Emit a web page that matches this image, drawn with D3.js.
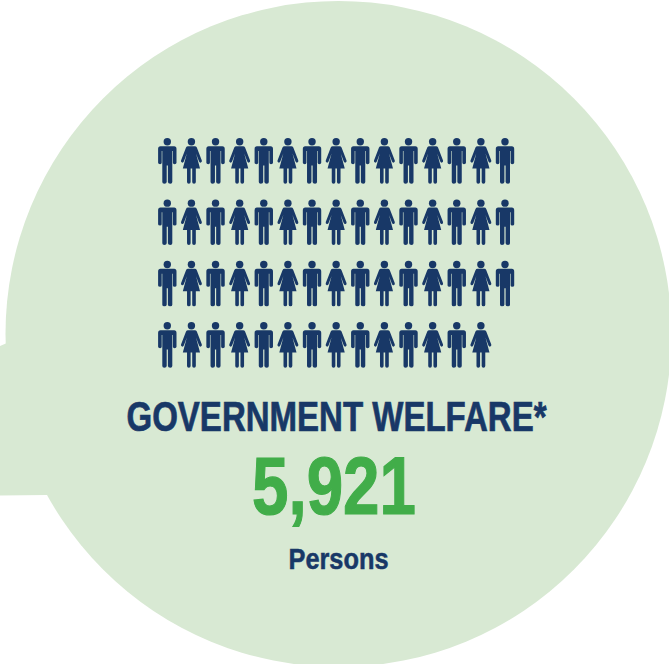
<!DOCTYPE html>
<html>
<head>
<meta charset="utf-8">
<script src="https://cdn.jsdelivr.net/npm/d3@7/dist/d3.min.js"></script>
<style>
html,body{margin:0;padding:0;background:#fff;overflow:hidden}
svg{display:block}
text{font-family:"Liberation Sans Narrow","Liberation Sans",sans-serif;font-weight:700;text-anchor:middle;paint-order:stroke}
</style>
</head>
<body>
<svg id="chart" width="669" height="664"></svg>
<script>
// One pictogram per 100 persons, alternating man and woman along each row
const rowCounts = [15, 15, 15, 14];
const figureTypes = ["man", "woman"];
const heading = "GOVERNMENT WELFARE*";
const totalLabel = "5,921";
const unitLabel = "Persons";

const navy = "#183867", green = "#41ad49", panel = "#d8e9d3";

const svg = d3.select("#chart");

// Backdrop: a large disc with a tab on its left side
svg.append("circle").attr("cx", 338.5).attr("cy", 334).attr("r", 333).attr("fill", panel);
svg.append("path").attr("fill", panel).attr("d", "M0,346L7,343L60,343L60,495L47,495L0,495.5Z");

const x = d3.scaleLinear().domain([0, 14]).range([167.3, 505]);
const y = d3.scaleLinear().domain([0, 3]).range([138, 322]);

// Figure outlines in local units: origin at the top centre of the head
const glyphs = {
  man: "M-6.8,8.2H6.8Q9.2,8.2 9.2,10.8V24.8Q9.2,26.2 7.2,26.2Q5.6,26.2 5.6,24.8V13H5V44Q5,45.7 3,45.7Q0.7,45.7 0.6,44V27.5H-0.6V44Q-0.7,45.7 -3,45.7Q-5,45.7 -5,44V13H-5.6V24.8Q-5.6,26.2 -7.2,26.2Q-9.2,26.2 -9.2,24.8V10.8Q-9.2,8.2 -6.8,8.2Z",
  woman: "M-3.4,8.2H3.4Q4.8,8.2 5.4,9.6L10.4,22.6Q10.8,24 9.4,24.6Q8.2,24.9 7.6,23.6L4.6,15.6L8.6,30.6H4.4V44Q4.4,45.7 2.6,45.7Q0.8,45.7 0.8,44V30.6H-0.8V44Q-0.8,45.7 -2.6,45.7Q-4.4,45.7 -4.4,44V30.6H-8.6L-4.6,15.6L-7.6,23.6Q-8.2,24.9 -9.4,24.6Q-10.8,24 -10.4,22.6L-5.4,9.6Q-4.8,8.2 -3.4,8.2Z"
};

const rows = svg.selectAll("g.row").data(rowCounts).join("g")
  .attr("class", "row")
  .attr("transform", (d, i) => `translate(0,${y(i)})`);

const figures = rows.selectAll("g.figure").data(n => d3.range(n)).join("g")
  .attr("class", "figure")
  .attr("transform", c => `translate(${x(c)},0)`)
  .attr("fill", navy);

figures.append("circle").attr("cy", 3.8).attr("r", 3.7);
figures.append("path").attr("d", c => glyphs[figureTypes[c % 2]]);

// Captions, thickened slightly with a same-coloured outline
function caption(label, cx, baseline, size, width, color, weight) {
  svg.append("text").attr("x", cx).attr("y", baseline).attr("font-size", size)
    .attr("textLength", width).attr("lengthAdjust", "spacingAndGlyphs")
    .attr("fill", color).attr("stroke", color).attr("stroke-width", weight)
    .text(label);
}
caption(heading, 336.5, 431, 42, 420, navy, 0.7);
caption(totalLabel, 334, 514, 81, 164, green, 1.2);
caption(unitLabel, 338.5, 569, 29, 100, navy, 0.5);
</script>
</body>
</html>
